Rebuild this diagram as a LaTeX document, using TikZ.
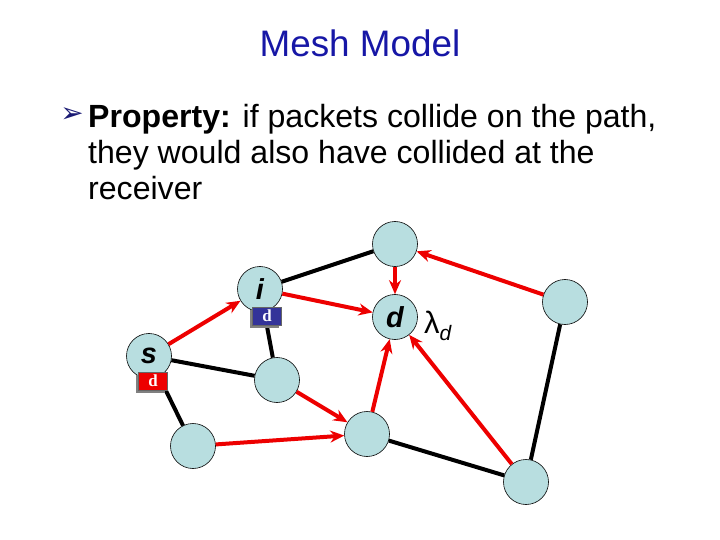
\documentclass[tikz,border=0pt]{standalone}
\usepackage{fontspec}
\setmainfont{Liberation Sans}
\newfontfamily\dingfont{DejaVu Sans}
\newfontfamily\tagfont{Liberation Serif}
\usetikzlibrary{arrows.meta,shadows}
\definecolor{TitleClr}{rgb}{0.09,0.09,0.65}
\definecolor{NodeClr}{rgb}{0.72,0.87,0.88}
\definecolor{FlowClr}{rgb}{0.93,0,0}
\definecolor{TagClr}{rgb}{0.2,0.2,0.6}
\definecolor{BulletClr}{rgb}{0.1,0.1,0.45}

\begin{document}
\begin{tikzpicture}[x=1bp,y=-1bp,
  station/.style={circle,draw=black,line width=0.6bp,fill=NodeClr,minimum size=45bp,inner sep=0pt,
    font=\fontsize{29}{29}\selectfont\bfseries\itshape},
  link/.style={line width=4bp,draw=black},
  flow/.style={line width=4bp,draw=FlowClr,-{Stealth[length=14bp,width=12bp]}},
  tag/.style={draw=black!60,line width=0.5bp,minimum width=29bp,minimum height=18bp,inner sep=0pt,
    text=white,font=\tagfont\fontsize{17}{17}\selectfont\bfseries,
    drop shadow={shadow xshift=-3bp,shadow yshift=-3bp,fill=gray,opacity=1}}]
\useasboundingbox (0,0) rectangle (720,540);

\node[font=\fontsize{37}{37}\selectfont,text=TitleClr] (title) at (360,43) {Mesh Model};
\node[font=\dingfont\fontsize{28}{28}\selectfont,text=BulletClr] (bullet) at (72,115) {➢};
\node[anchor=base west,align=left,inner sep=0pt,font=\fontsize{32.2}{36.5}\selectfont] (prop) at (88,200)
  {\textbf{Property:} if packets collide on the path,\\they would also have collided at the\\receiver};

% stations
\node[station] (s) at (149,356) {s};
\node[station] (i) at (260,289) {i};
\node[station] (d) at (395,317) {d};
\node[station] (top) at (395,244) {};
\node[station] (right) at (565,302) {};
\node[station] (mid) at (277,380) {};
\node[station] (lowleft) at (193,446) {};
\node[station] (lowmid) at (367,434) {};
\node[station] (lowright) at (526,482) {};

% links
\draw[link] (s) -- (mid);
\draw[link] (s) -- (lowleft);
\draw[link] (i) -- (top);
\draw[link] (i) -- (mid);
\draw[link] (right) -- (lowright);
\draw[link] (lowmid) -- (lowright);

% flows
\draw[flow] (s) -- (i);
\draw[flow] (i) -- (d);
\draw[flow] (top) -- (d);
\draw[flow] (right) -- (top);
\draw[flow] (mid) -- (lowmid);
\draw[flow] (lowleft) -- (lowmid);
\draw[flow] (lowmid) -- (d);
\draw[flow] (lowright) -- (d);

% tags
\node[tag,fill=TagClr] (itag) at (267,316) {d};
\node[tag,fill=FlowClr] (stag) at (153,381) {d};

\node[anchor=base west,inner sep=0pt,font=\fontsize{31}{31}\selectfont] (lambda) at (424,333)
  {λ\raisebox{-7bp}{\fontsize{21}{21}\selectfont\itshape d}};
\end{tikzpicture}
\end{document}
